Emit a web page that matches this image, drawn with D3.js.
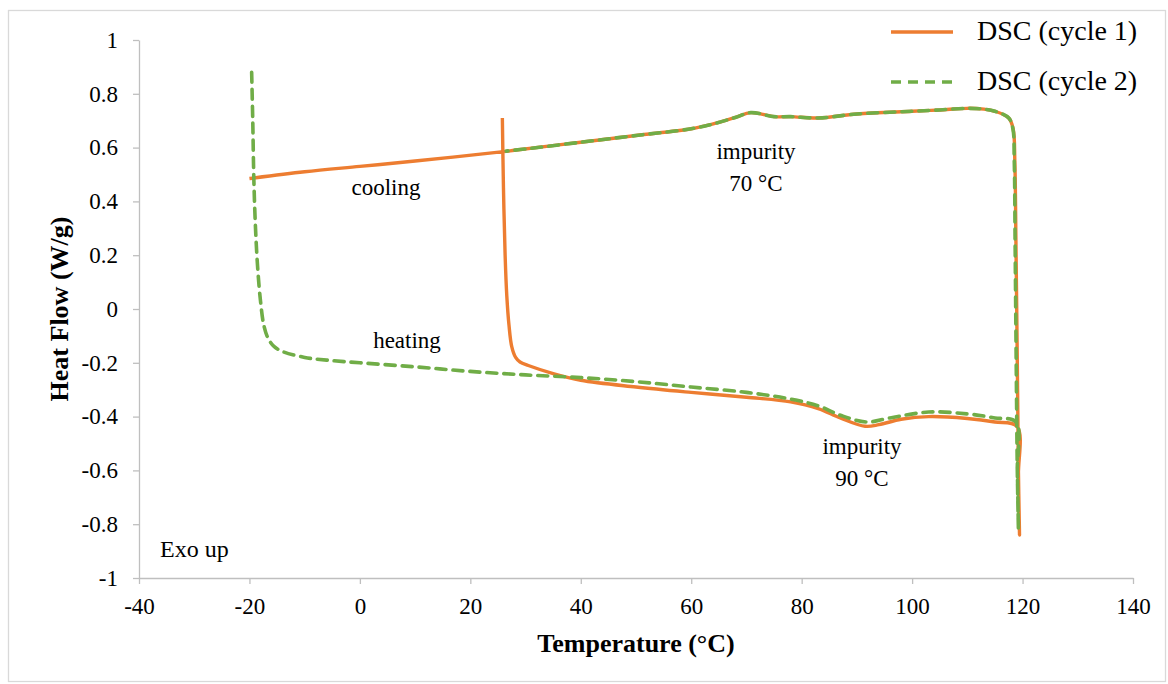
<!DOCTYPE html>
<html>
<head>
<meta charset="utf-8">
<script src="https://cdn.jsdelivr.net/npm/d3@7"></script>
<style>
  body { margin: 0; background: #fff; }
  svg text { font-family: "Liberation Serif", "Times New Roman", serif; fill: #000; }
  .axis path, .axis line { stroke: #bfbfbf; stroke-width: 1.3; }
</style>
</head>
<body>
<svg width="1168" height="684"></svg>
<script>
// cycle 1: heating from 25 to 120, then cooling to -20
const cycle1Temp = [25.8, 26.0, 26.3, 26.6, 27.0, 27.5, 28.2, 29.0, 30.5, 35, 40, 50, 60, 70, 78, 83, 87, 91.5, 94, 98, 103, 110, 115, 119.0,
  119.25, 119.45, 119.25, 119.05, 118.8, 118.6, 118.3, 117.5, 115, 113, 110, 105, 100, 90, 83, 78, 75, 70.8, 68, 64, 60, 50, 40, 28, 26, 10, 0, -10, -20];
const cycle1Flow = [0.71, 0.45, 0.2, 0.05, -0.06, -0.14, -0.18, -0.197, -0.21, -0.24, -0.265, -0.29, -0.31, -0.328, -0.345, -0.37, -0.405, -0.436, -0.43, -0.41, -0.40, -0.407, -0.42, -0.437,
  -0.62, -0.84, -0.6, -0.2, 0.25, 0.55, 0.67, 0.71, 0.735, 0.743, 0.746, 0.74, 0.735, 0.725, 0.71, 0.715, 0.715, 0.73, 0.712, 0.688, 0.67, 0.645, 0.62, 0.59, 0.585, 0.55, 0.53, 0.51, 0.485];

// cycle 2: heating from -20 to 120, then cooling to 25
const cycle2Temp = [-19.6, -19.4, -19.2, -18.9, -18.5, -18.0, -17.4, -16.6, -15.5, -14, -10, -6, 0, 10, 20, 30, 40, 50, 60, 70, 78, 83, 87, 91.8, 96, 103, 110, 115, 118.8,
  119.05, 119.25, 119.05, 118.85, 118.65, 118.5, 118.25, 117.5, 115, 113, 110, 105, 100, 90, 83, 78, 75, 70.8, 68, 64, 60, 50, 40, 30, 26.5];
const cycle2Flow = [0.88, 0.7, 0.48, 0.3, 0.15, 0.03, -0.06, -0.11, -0.14, -0.158, -0.18, -0.19, -0.2, -0.215, -0.232, -0.245, -0.255, -0.27, -0.29, -0.31, -0.335, -0.36, -0.395, -0.42, -0.405, -0.383, -0.39, -0.405, -0.42,
  -0.6, -0.82, -0.6, -0.2, 0.25, 0.55, 0.67, 0.71, 0.735, 0.743, 0.746, 0.74, 0.735, 0.725, 0.71, 0.715, 0.715, 0.73, 0.712, 0.688, 0.67, 0.645, 0.62, 0.595, 0.587];

const xTicks = [-40, -20, 0, 20, 40, 60, 80, 100, 120, 140];
const yTicks = [-1, -0.8, -0.6, -0.4, -0.2, 0, 0.2, 0.4, 0.6, 0.8, 1];
const seriesNames = ["DSC (cycle 1)", "DSC (cycle 2)"];

const svg = d3.select('svg');
const margin = {top: 40, right: 35, bottom: 106, left: 139};
const width = +svg.attr('width');
const height = +svg.attr('height');
const innerWidth = width - margin.left - margin.right;
const innerHeight = height - margin.top - margin.bottom;

// outer chart frame
svg.append('rect')
  .attr('x', 8.5).attr('y', 10.5)
  .attr('width', 1157).attr('height', 671)
  .attr('fill', 'none').attr('stroke', '#d9d9d9').attr('stroke-width', 1.3);

const xScale = d3.scaleLinear().domain([-40, 140]).range([0, innerWidth]);
const yScale = d3.scaleLinear().domain([-1, 1]).range([innerHeight, 0]);

const g = svg.append('g')
  .attr('transform', `translate(${margin.left}, ${margin.top})`);

const xAxis = g.append('g').attr('class', 'axis')
  .attr('transform', `translate(0, ${innerHeight})`)
  .call(d3.axisBottom(xScale).tickValues(xTicks).tickSize(6).tickPadding(14).tickSizeOuter(0)
    .tickFormat(d => String(d)));
xAxis.selectAll('text').style('font-size', '23px');

const yAxis = g.append('g').attr('class', 'axis')
  .call(d3.axisLeft(yScale).tickValues(yTicks).tickSize(6).tickPadding(15).tickSizeOuter(0)
    .tickFormat(d => String(d)));
yAxis.selectAll('text').style('font-size', '23px');

const line = d3.line()
  .x(d => xScale(d[0]))
  .y(d => yScale(d[1]))
  .curve(d3.curveCatmullRom.alpha(0.5));

const c1 = cycle1Temp.map((t, i) => [t, cycle1Flow[i]]);
const c2 = cycle2Temp.map((t, i) => [t, cycle2Flow[i]]);

g.append('path').datum(c1)
  .attr('d', line)
  .attr('fill', 'none')
  .attr('stroke', '#ED7D31')
  .attr('stroke-width', 3.4)
  .attr('stroke-linejoin', 'round');

g.append('path').datum(c2)
  .attr('d', line)
  .attr('fill', 'none')
  .attr('stroke', '#70AD47')
  .attr('stroke-width', 3.6)
  .attr('stroke-dasharray', '10,7')
  .attr('stroke-linecap', 'round');

// axis titles
svg.append('text')
  .attr('x', 636).attr('y', 652)
  .attr('text-anchor', 'middle')
  .style('font-size', '26px').style('font-weight', 'bold')
  .text('Temperature (°C)');

svg.append('text')
  .attr('transform', `translate(68, ${margin.top + innerHeight / 2}) rotate(-90)`)
  .attr('text-anchor', 'middle')
  .style('font-size', '26px').style('font-weight', 'bold')
  .text('Heat Flow (W/g)');

// annotations
const notes = [
  {x: 386, y: 195, t: 'cooling'},
  {x: 407, y: 348, t: 'heating'},
  {x: 756, y: 159, t: 'impurity'},
  {x: 756, y: 191, t: '70 °C'},
  {x: 862, y: 454, t: 'impurity'},
  {x: 862, y: 486, t: '90 °C'}
];
svg.selectAll('text.note').data(notes).enter().append('text')
  .attr('class', 'note')
  .attr('x', d => d.x).attr('y', d => d.y)
  .attr('text-anchor', 'middle')
  .style('font-size', '23px')
  .text(d => d.t);

svg.append('text')
  .attr('x', 160).attr('y', 557)
  .style('font-size', '24px')
  .text('Exo up');

// legend
const legend = svg.append('g').attr('transform', 'translate(891, 32)');
seriesNames.forEach((name, i) => {
  const row = legend.append('g').attr('transform', `translate(0, ${i * 50})`);
  row.append('line')
    .attr('x1', 0).attr('x2', 62).attr('y1', 0).attr('y2', 0)
    .attr('stroke', i === 0 ? '#ED7D31' : '#70AD47')
    .attr('stroke-width', i === 0 ? 3.4 : 3.6)
    .attr('stroke-dasharray', i === 0 ? null : '10,7');
  row.append('text')
    .attr('x', 86).attr('y', 8)
    .style('font-size', '28px')
    .text(name);
});
</script>
</body>
</html>
